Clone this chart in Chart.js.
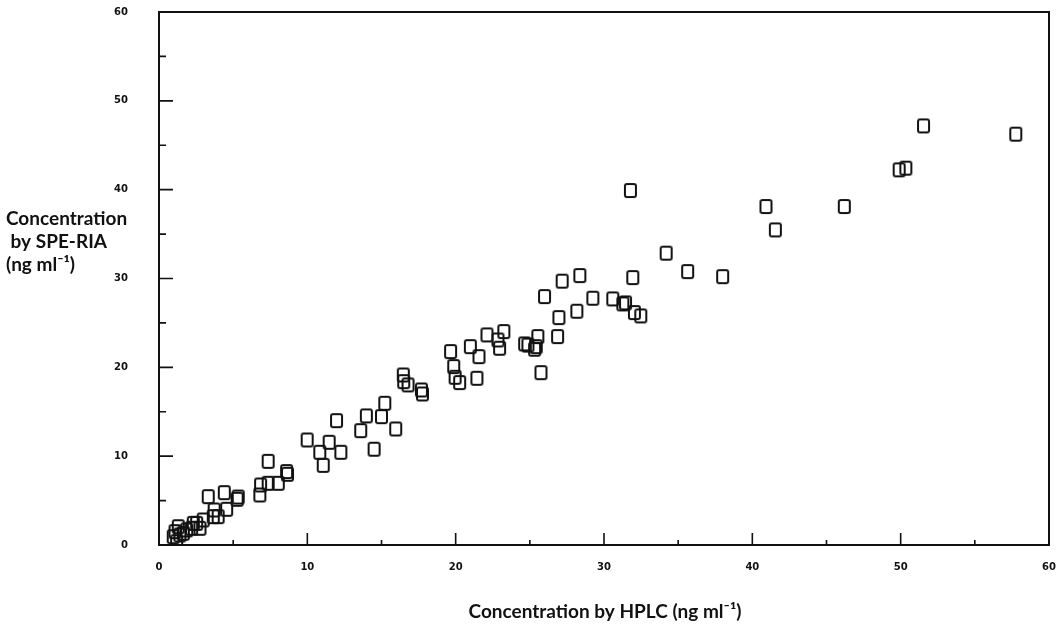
<!DOCTYPE html>
<html>
<head>
<meta charset="utf-8">
<title>SPE-RIA vs HPLC</title>
<script src="https://cdn.jsdelivr.net/npm/chart.js@4.4.1/dist/chart.umd.min.js"></script>
<style>
  html, body { margin: 0; padding: 0; background: #ffffff; }
  #wrap { width: 1057px; height: 624px; position: relative; }
</style>
</head>
<body>
<div id="wrap"><canvas id="c" width="1057" height="624"></canvas></div>
<script>
// Concentration measured by HPLC (x) and by SPE-RIA (y), ng/ml
const hplc = [
  57.76, 51.54, 49.9, 50.35, 46.2, 40.92, 41.55, 31.78, 38.0, 35.64, 34.19, 31.94,
  28.37, 27.18, 25.99, 29.25, 30.59, 31.27, 31.45, 32.05, 32.48, 28.17, 26.96, 26.87,
  25.75, 25.54, 25.43, 25.32, 24.65, 24.87, 23.25, 22.11, 22.85, 22.96, 20.99, 21.57,
  19.66, 19.87, 19.96, 20.27, 21.43, 16.47, 16.5, 16.79, 17.69, 17.76,
  15.22, 13.98, 15.0, 13.6, 15.96, 14.5, 11.97, 9.99, 11.47, 10.84, 12.26, 11.07,
  7.36, 8.6, 8.66, 8.04, 7.36, 6.85, 6.8, 5.27, 5.34, 4.4, 3.32, 4.56, 3.72, 3.66,
  3.99, 2.98, 2.54, 2.31, 2.2, 2.76, 1.87, 1.3, 1.08, 0.96, 1.19, 1.41, 1.64
];
const speRia = [
  46.25, 47.18, 42.23, 42.42, 38.1, 38.1, 35.47, 39.9, 30.21, 30.78, 32.85, 30.1,
  30.33, 29.7, 27.96, 27.78, 27.7, 27.14, 27.25, 26.16, 25.79, 26.32, 25.6, 23.46,
  19.4, 23.46, 22.33, 22.04, 22.64, 22.5, 24.02, 23.65, 23.08, 22.15, 22.33, 21.2,
  21.77, 20.08, 18.88, 18.28, 18.77, 19.14, 18.39, 18.02, 17.45, 17.0,
  15.95, 14.53, 14.45, 12.87, 13.06, 10.78, 14.0, 11.82, 11.56, 10.44, 10.44, 8.97,
  9.42, 8.26, 7.96, 6.95, 6.95, 6.76, 5.63, 5.15, 5.4, 5.89, 5.44, 4.02, 3.94, 3.19,
  3.19, 2.82, 2.44, 2.44, 1.88, 1.88, 1.69, 2.06, 1.5, 0.93, 0.37, 1.13, 1.32
];
const xTickLabels = ['0', '10', '20', '30', '40', '50', '60'];
const yTickLabels = ['0', '10', '20', '30', '40', '50', '60'];
const yTitleLines = ['Concentration', ' by SPE-RIA', '(ng ml\u207B\u00B9)'];
const xTitle = 'Concentration by HPLC (ng ml\u207B\u00B9)';

const points = hplc.map((x, i) => ({ x: x, y: speRia[i] }));

// open, slightly tall square marker
function makeMarker() {
  const m = document.createElement('canvas');
  m.width = 15; m.height = 17;
  const g = m.getContext('2d');
  g.strokeStyle = '#111';
  g.lineWidth = 2;
  g.beginPath();
  g.roundRect(2, 2, 11, 13, 2);
  g.stroke();
  return m;
}
const marker = makeMarker();

function noPadding(s) {
  s.paddingTop = 0; s.paddingBottom = 0;
  s.paddingLeft = 0; s.paddingRight = 0;
}

const tickFont = { family: 'DejaVu Sans', size: 10, weight: 'bold' };

const frameAndTicks = {
  id: 'frameAndTicks',
  afterDatasetsDraw(chart) {
    const { ctx, chartArea: a, scales } = chart;
    ctx.save();
    ctx.strokeStyle = '#111';
    ctx.lineWidth = 2;
    ctx.strokeRect(a.left, a.top, a.right - a.left, a.bottom - a.top);
    ctx.lineWidth = 1.6;
    ctx.beginPath();
    for (let v = 5; v < 60; v += 5) {
      const major = v % 10 === 0;
      const py = scales.y.getPixelForValue(v);
      ctx.moveTo(a.left, py);
      ctx.lineTo(a.left + (major ? 14 : 7), py);
      const px = scales.x.getPixelForValue(v);
      ctx.moveTo(px, a.bottom);
      ctx.lineTo(px, a.bottom - (major ? 12 : 5));
    }
    ctx.stroke();

    ctx.fillStyle = '#111';
    ctx.font = 'bold 19px Lato';
    ctx.textAlign = 'left';
    ctx.textBaseline = 'alphabetic';
    const lineY = [225, 248, 271];
    yTitleLines.forEach((t, i) => ctx.fillText(t, 6, lineY[i]));
    ctx.textAlign = 'center';
    ctx.fillText(xTitle, 605, 618);
    ctx.restore();
  }
};

new Chart(document.getElementById('c'), {
  type: 'scatter',
  data: {
    datasets: [{
      data: points,
      pointStyle: marker,
      pointRadius: 7,
      pointHoverRadius: 7
    }]
  },
  options: {
    responsive: false,
    animation: false,
    events: [],
    layout: { padding: { left: 0, right: 7, top: 12, bottom: 0 } },
    plugins: { legend: { display: false }, tooltip: { enabled: false } },
    scales: {
      x: {
        type: 'linear', min: 0, max: 60,
        border: { display: false },
        grid: { display: false },
        afterFit(s) { s.height = 79; noPadding(s); },
        ticks: {
          stepSize: 10, padding: 8,
          color: '#111',
          font: tickFont,
          callback: (v) => xTickLabels[v / 10]
        }
      },
      y: {
        type: 'linear', min: 0, max: 60,
        border: { display: false },
        grid: { display: false },
        afterFit(s) { s.width = 159; noPadding(s); },
        ticks: {
          stepSize: 10, padding: 23,
          color: '#111',
          font: tickFont,
          callback: (v) => yTickLabels[v / 10]
        }
      }
    }
  },
  plugins: [frameAndTicks]
});
</script>
</body>
</html>
